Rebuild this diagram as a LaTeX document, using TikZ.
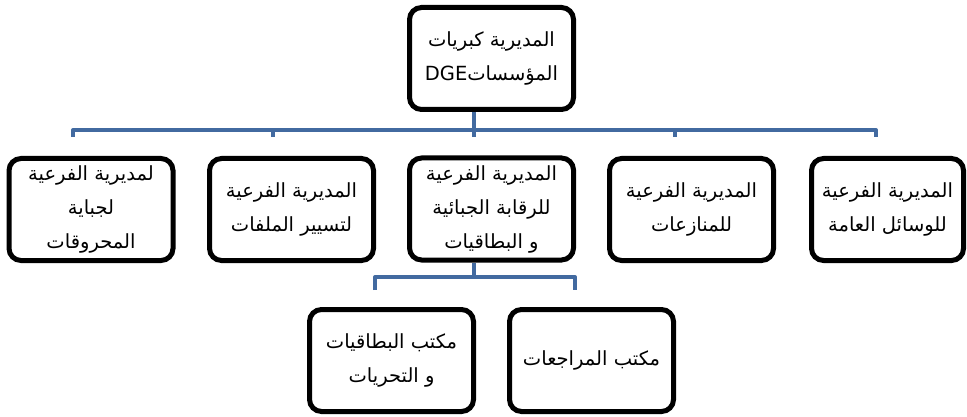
\documentclass[tikz,border=0pt]{standalone}
\usepackage{fontspec}
\newfontfamily\arabicfont[Script=Arabic]{DejaVu Sans}
\TeXXeTstate=1
\definecolor{linkblue}{RGB}{66,106,160}
\begin{document}
\begin{tikzpicture}[x=1pt,y=-1pt,
  box/.style={draw=black,line width=5pt,rounded corners=12pt,fill=white,
    minimum width=164pt,minimum height=102pt,align=center,inner sep=0pt,
    font=\arabicfont\fontsize{19.5}{34}\selectfont},
  conn/.style={draw=linkblue,line width=4pt,line join=round}]
\useasboundingbox (0,0) rectangle (967,417);
% top
\node[box] (top) at (491.5,58.5) {\beginR المديرية كبريات\endR\\\beginR المؤسسات\beginL DGE\endL\endR};
% second row
\node[box] (b1) at (91,209.5) {\beginR لمديرية الفرعية\endR\\\beginR لجباية\endR\\\beginR المحروقات\endR};
\node[box] (b2) at (291.5,209.5) {\beginR المديرية الفرعية\endR\\\beginR لتسيير الملفات\endR};
\node[box] (b3) at (491.5,209) {\beginR المديرية الفرعية\endR\\\beginR للرقابة الجبائية\endR\\\beginR و البطاقيات\endR};
\node[box] (b4) at (691.5,209.5) {\beginR المديرية الفرعية\endR\\\beginR للمنازعات\endR};
\node[box,minimum width=152pt] (b5) at (887.5,209.5) {\beginR المديرية الفرعية\endR\\\beginR للوسائل العامة\endR};
% bottom row
\node[box] (c1) at (391.5,360.5) {\beginR مكتب البطاقيات\endR\\\beginR و التحريات\endR};
\node[box] (c2) at (591.5,360.5) {\beginR مكتب المراجعات\endR};
% junction coordinates
\coordinate (h1) at (73,130);
\coordinate (h2) at (273,130);
\coordinate (h3) at (474,130);
\coordinate (h4) at (675,130);
\coordinate (h5) at (876,130);
\coordinate (t1) at (73,137);
\coordinate (t2) at (273,137);
\coordinate (t3) at (474,137);
\coordinate (t4) at (675,137);
\coordinate (t5) at (876,137);
\coordinate (g0) at (474,277);
\coordinate (g1) at (375,277);
\coordinate (g2) at (575,277);
\coordinate (s1) at (375,290);
\coordinate (s2) at (575,290);
% connectors
\draw[conn] (top.south -| h3) -- (h3);
\draw[conn] (t1) -- (h1) -- (h5) -- (t5);
\draw[conn] (h2) -- (t2);
\draw[conn] (h3) -- (t3);
\draw[conn] (h4) -- (t4);
\draw[conn] (b3.south -| g0) -- (g0);
\draw[conn] (s1) -- (g1) -- (g2) -- (s2);
\end{tikzpicture}
\end{document}
